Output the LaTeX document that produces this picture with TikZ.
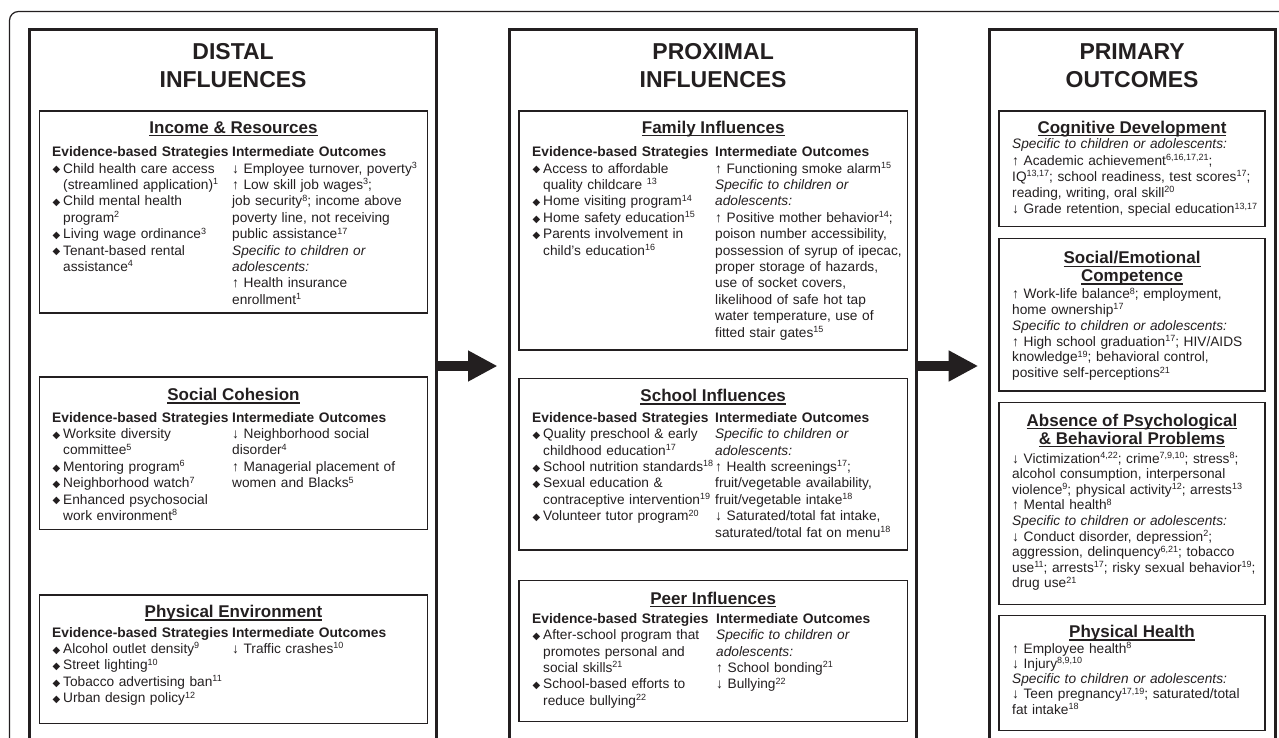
\documentclass[tikz,border=0pt]{standalone}
\usepackage{fontspec}
\setmainfont{Liberation Sans}
\newfontfamily\symfont{DejaVu Sans}
\usepackage{tikz}
\usetikzlibrary{arrows.meta, positioning}

\definecolor{ink}{RGB}{35,31,32}

\newcommand{\sups}[1]{\raisebox{4.6pt}{\fontsize{9}{9}\selectfont #1}}
\newcommand{\dmd}{\makebox[11pt][l]{\hspace{0.3pt}\raisebox{0.2pt}{\symfont\fontsize{10}{10}\selectfont ◆}}}
\newcommand{\ind}{\hspace*{11pt}}
\newcommand{\hdl}[1]{\sbox0{#1}\rlap{\rule[-3pt]{\wd0}{1.4pt}}\usebox0}
\newcommand{\spec}{\textit{Specific to children or adolescents:}}
\newcommand{\hd}[1]{{\fontsize{13.8}{16.4}\selectfont\bfseries #1}}

\tikzset{
    colbox/.style={draw=ink, line width=3pt, anchor=north west, inner sep=0pt, outer sep=0pt},
    subbox/.style={draw=ink, line width=1.3pt, anchor=north west, inner sep=0pt, outer sep=0pt},
    coltitle/.style={font=\fontsize{23}{28}\selectfont\bfseries, align=center, anchor=base, text=ink, inner sep=0pt},
    subtitle/.style={font=\fontsize{17}{17.8}\selectfont\bfseries, align=center, anchor=base, text=ink, inner sep=0pt},
    txt/.style={font=\fontsize{13.7}{16.4}\selectfont, text width=#1, align=left, anchor=base west, text=ink, inner sep=0pt},
    txt/.default=200pt,
    outtxt/.style={txt=262pt, font=\fontsize{13.7}{#1}\selectfont},
    outtxt/.default=15.7pt,
    bigarrow/.style={draw=ink, line width=10pt, -{Triangle[length=29.5pt,width=29pt]}}
}

\begin{document}
\begin{tikzpicture}[x=1pt, y=-1pt]
    \useasboundingbox (0,0) rectangle (1279,738);
    \clip (0,0) rectangle (1279,738);

    % frame round the whole model
    \draw[ink, line width=1.2pt, rounded corners=9pt] (9.5,800) |- (1320,11.5);

    % the three columns
    \node[colbox, minimum width=407.2pt, minimum height=780pt] (distal)   at (29.5,30)  {};
    \node[colbox, minimum width=407.2pt, minimum height=780pt] (proximal) at (509.5,30) {};
    \node[colbox, minimum width=285.8pt, minimum height=780pt] (primary)  at (989.2,30) {};

    % two-line titles sit on the baseline of their last line
    \node[coltitle] (distal-t)   at (233.1,87.3)  {DISTAL\\INFLUENCES};
    \node[coltitle] (proximal-t) at (713.1,87.3)  {PROXIMAL\\INFLUENCES};
    \node[coltitle] (primary-t)  at (1132.1,87.3) {PRIMARY\\OUTCOMES};

    \coordinate (arrowrow) at (0,366);
    \draw[bigarrow, shorten >=12pt] (distal.east |- arrowrow) -- (proximal.west |- arrowrow);
    \draw[bigarrow, shorten >=11pt] (proximal.east |- arrowrow) -- (primary.west |- arrowrow);

    % distal influences
    \node[subbox, minimum width=388.4pt, minimum height=202pt]   (income)   at (39.3,111)   {};
    \node[subbox, minimum width=388.4pt, minimum height=152.6pt] (cohesion) at (39.3,377)   {};
    \node[subbox, minimum width=388.4pt, minimum height=128.3pt] (physenv)  at (39.3,595)   {};

    \node[subtitle] (income-t)   at (233.5,133.5) {\hdl{Income \& Resources}};
    \node[subtitle] (cohesion-t) at (233.5,400.5) {\hdl{Social Cohesion}};
    \node[subtitle] (physenv-t)  at (233.5,617.5) {\hdl{Physical Environment}};

    \node[txt] (income-l) at (52,156.7) {\hd{Evidence-based Strategies}\\
        \dmd Child health care access\\
        \ind(streamlined application)\sups{1}\\
        \dmd Child mental health\\
        \ind program\sups{2}\\
        \dmd Living wage ordinance\sups{3}\\
        \dmd Tenant-based rental\\
        \ind assistance\sups{4}};
    \node[txt] (income-r) at (232,156.7) {\hd{Intermediate Outcomes}\\
        ↓ Employee turnover, poverty\sups{3}\\
        ↑ Low skill job wages\sups{3};\\
        job security\sups{8}; income above\\
        poverty line, not receiving\\
        public assistance\sups{17}\\
        \textit{Specific to children or}\\
        \textit{adolescents:}\\
        ↑ Health insurance\\
        enrollment\sups{1}};

    \node[txt] (cohesion-l) at (52,422) {\hd{Evidence-based Strategies}\\
        \dmd Worksite diversity\\
        \ind committee\sups{5}\\
        \dmd Mentoring program\sups{6}\\
        \dmd Neighborhood watch\sups{7}\\
        \dmd Enhanced psychosocial\\
        \ind work environment\sups{8}};
    \node[txt] (cohesion-r) at (232,422) {\hd{Intermediate Outcomes}\\
        ↓ Neighborhood social\\
        disorder\sups{4}\\
        ↑ Managerial placement of\\
        women and Blacks\sups{5}};

    \node[txt] (physenv-l) at (52,637) {\hd{Evidence-based Strategies}\\
        \dmd Alcohol outlet density\sups{9}\\
        \dmd Street lighting\sups{10}\\
        \dmd Tobacco advertising ban\sups{11}\\
        \dmd Urban design policy\sups{12}};
    \node[txt] (physenv-r) at (232,637) {\hd{Intermediate Outcomes}\\
        ↓ Traffic crashes\sups{10}};

    % proximal influences
    \node[subbox, minimum width=388.3pt, minimum height=239pt] (family) at (519,111)   {};
    \node[subbox, minimum width=388.3pt, minimum height=171.7pt] (school) at (519,378.3) {};
    \node[subbox, minimum width=388.3pt, minimum height=141pt]   (peer)   at (519,580.7) {};

    \node[subtitle] (family-t) at (713.2,133.5) {\hdl{Family Influences}};
    \node[subtitle] (school-t) at (713.2,401.7) {\hdl{School Influences}};
    \node[subtitle] (peer-t)   at (713.2,604)   {\hdl{Peer Influences}};

    \node[txt] (family-l) at (532,156.7) {\hd{Evidence-based Strategies}\\
        \dmd Access to affordable\\
        \ind quality childcare \sups{13}\\
        \dmd Home visiting program\sups{14}\\
        \dmd Home safety education\sups{15}\\
        \dmd Parents involvement in\\
        \ind child's education\sups{16}};
    \node[txt] (family-r) at (715,156.7) {\hd{Intermediate Outcomes}\\
        ↑ Functioning smoke alarm\sups{15}\\
        \textit{Specific to children or}\\
        \textit{adolescents:}\\
        ↑ Positive mother behavior\sups{14};\\
        poison number accessibility,\\
        possession of syrup of ipecac,\\
        proper storage of hazards,\\
        use of socket covers,\\
        likelihood of safe hot tap\\
        water temperature, use of\\
        fitted stair gates\sups{15}};

    \node[txt] (school-l) at (532,422.3) {\hd{Evidence-based Strategies}\\
        \dmd Quality preschool \& early\\
        \ind childhood education\sups{17}\\
        \dmd School nutrition standards\sups{18}\\
        \dmd Sexual education \&\\
        \ind contraceptive intervention\sups{19}\\
        \dmd Volunteer tutor program\sups{20}};
    \node[txt] (school-r) at (715,422.3) {\hd{Intermediate Outcomes}\\
        \textit{Specific to children or}\\
        \textit{adolescents:}\\
        ↑ Health screenings\sups{17};\\
        fruit/vegetable availability,\\
        fruit/vegetable intake\sups{18}\\
        ↓ Saturated/total fat intake,\\
        saturated/total fat on menu\sups{18}};

    \node[txt] (peer-l) at (532,623.3) {\hd{Evidence-based Strategies}\\
        \dmd After-school program that\\
        \ind promotes personal and\\
        \ind social skills\sups{21}\\
        \dmd School-based efforts to\\
        \ind reduce bullying\sups{22}};
    \node[txt] (peer-r) at (716,623.3) {\hd{Intermediate Outcomes}\\
        \textit{Specific to children or}\\
        \textit{adolescents:}\\
        ↑ School bonding\sups{21}\\
        ↓ Bullying\sups{22}};

    % primary outcomes
    \node[subbox, minimum width=266pt, minimum height=115.7pt] (cognitive)  at (999,111)   {};
    \node[subbox, minimum width=266pt, minimum height=152.7pt] (socemo)     at (999,238.3) {};
    \node[subbox, minimum width=266pt, minimum height=202pt]   (absence)    at (999,402.3) {};
    \node[subbox, minimum width=266pt, minimum height=115pt]   (physhealth) at (999,615.7) {};

    \node[subtitle] (cognitive-t)  at (1132,133.5) {\hdl{Cognitive Development}};
    \node[subtitle] (socemo-t)     at (1132,281.7) {\hdl{Social/Emotional}\\\hdl{Competence}};
    \node[subtitle] (absence-t)    at (1132,444)   {\hdl{Absence of Psychological}\\\hdl{\& Behavioral Problems}};
    \node[subtitle] (physhealth-t) at (1132,637.8) {\hdl{Physical Health}};

    \node[outtxt=16.2pt] (cognitive-x) at (1012,149) {\spec\\
        ↑ Academic achievement\sups{6,16,17,21};\\
        IQ\sups{13,17}; school readiness, test scores\sups{17};\\
        reading, writing, oral skill\sups{20}\\
        ↓ Grade retention, special education\sups{13,17}};
    \node[outtxt=15.8pt] (socemo-x) at (1012,298.7) {↑ Work-life balance\sups{8}; employment,\\
        home ownership\sups{17}\\
        \spec\\
        ↑ High school graduation\sups{17}; HIV/AIDS\\
        knowledge\sups{19}; behavioral control,\\
        positive self-perceptions\sups{21}};
    \node[outtxt=15.6pt] (absence-x) at (1012,463) {↓ Victimization\sups{4,22}; crime\sups{7,9,10}; stress\sups{8};\\
        alcohol consumption, interpersonal\\
        violence\sups{9}; physical activity\sups{12}; arrests\sups{13}\\
        ↑ Mental health\sups{8}\\
        \spec\\
        ↓ Conduct disorder, depression\sups{2};\\
        aggression, delinquency\sups{6,21}; tobacco\\
        use\sups{11}; arrests\sups{17}; risky sexual behavior\sups{19};\\
        drug use\sups{21}};
    \node[outtxt=15.3pt] (physhealth-x) at (1012,653) {↑ Employee health\sups{8}\\
        ↓ Injury\sups{8,9,10}\\
        \spec\\
        ↓ Teen pregnancy\sups{17,19}; saturated/total\\
        fat intake\sups{18}};
\end{tikzpicture}
\end{document}
